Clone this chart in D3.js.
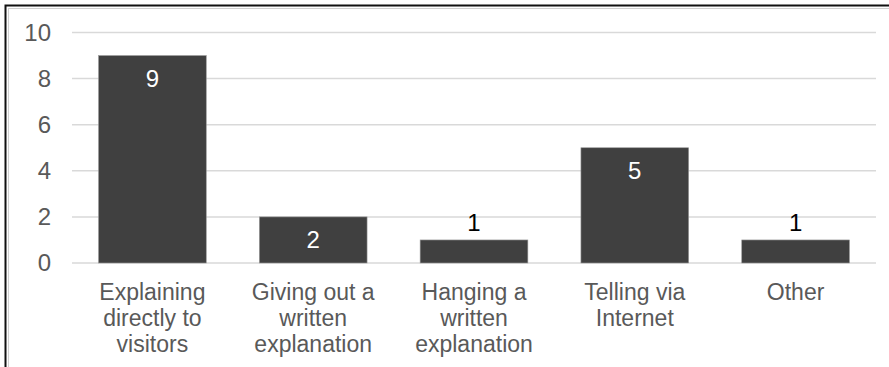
<!DOCTYPE html>
<html>
<head>
<meta charset="utf-8">
<script src="https://cdn.jsdelivr.net/npm/d3@7/dist/d3.min.js"></script>
<style>
  html, body { margin: 0; padding: 0; background: #fff; }
  svg { display: block; }
  text { font-family: "Liberation Sans", Arial, sans-serif; }
</style>
</head>
<body>
<svg id="chart" width="889" height="367"></svg>
<script>
// Answer categories (each line of a label is a separate entry)
const categories = [
  ["Explaining", "directly to", "visitors"],
  ["Giving out a", "written", "explanation"],
  ["Hanging a", "written", "explanation"],
  ["Telling via", "Internet"],
  ["Other"]
];
const counts = [9, 2, 1, 5, 1];
const yTicks = [0, 2, 4, 6, 8, 10];

const svg = d3.select("#chart");
const W = 889, H = 367;

// Chart frame: dark top/left edges with a faint inner line
svg.append("rect").attr("x", 8.5).attr("y", 8.5).attr("width", W).attr("height", H)
  .attr("fill", "none").attr("stroke", "#d0d0d0").attr("stroke-width", 1);
svg.append("path").attr("d", `M5.5,${H} V5.5 H${W}`)
  .attr("fill", "none").attr("stroke", "#111").attr("stroke-width", 2);

const plot = { left: 72, right: 876, top: 32.5, bottom: 263 };

const x = d3.scaleBand()
  .domain(d3.range(categories.length))
  .range([plot.left, plot.right])
  .paddingInner(0.33)
  .paddingOuter(0.165);

const y = d3.scaleLinear().domain([0, 10]).range([plot.bottom, plot.top]);

// Horizontal gridlines
svg.append("g").selectAll("line").data(yTicks).join("line")
  .attr("x1", plot.left).attr("x2", plot.right)
  .attr("y1", d => y(d)).attr("y2", d => y(d))
  .attr("stroke", "#d9d9d9").attr("stroke-width", 1.5);

// Y axis labels
const yAxis = d3.axisLeft(y).tickValues(yTicks).tickSize(0).tickPadding(0);
const gy = svg.append("g").attr("transform", "translate(51,0)").call(yAxis);
gy.select(".domain").remove();
gy.selectAll("text")
  .attr("fill", "#595959")
  .style("font-size", "24px")
  .style("font-family", "'Liberation Sans', Arial, sans-serif");

// Bars
svg.append("g").selectAll("rect").data(counts).join("rect")
  .attr("x", (d, i) => x(i))
  .attr("y", d => y(d))
  .attr("width", x.bandwidth())
  .attr("height", d => y(0) - y(d))
  .attr("fill", "#404040")
  .attr("stroke", "#9a9a9a")
  .attr("stroke-width", 0.6);

// Value labels: inside the bar when it is tall enough, above it otherwise
svg.append("g").selectAll("text").data(counts).join("text")
  .attr("x", (d, i) => x(i) + x.bandwidth() / 2)
  .attr("y", d => (d >= 2 ? y(d) + 23 : y(d) - 17))
  .attr("dy", "0.35em")
  .attr("text-anchor", "middle")
  .attr("fill", d => (d >= 2 ? "#ffffff" : "#000000"))
  .style("font-size", "24px")
  .text(d => d);

// Category labels
const gx = svg.append("g");
categories.forEach((lines, i) => {
  const t = gx.append("text")
    .attr("x", x(i) + x.bandwidth() / 2)
    .attr("y", 292)
    .attr("text-anchor", "middle")
    .attr("fill", "#595959")
    .style("font-size", "23px");
  lines.forEach((ln, j) => {
    t.append("tspan")
      .attr("x", x(i) + x.bandwidth() / 2)
      .attr("y", 292 + j * 26)
      .attr("dy", "0.35em")
      .text(ln);
  });
});
</script>
</body>
</html>
